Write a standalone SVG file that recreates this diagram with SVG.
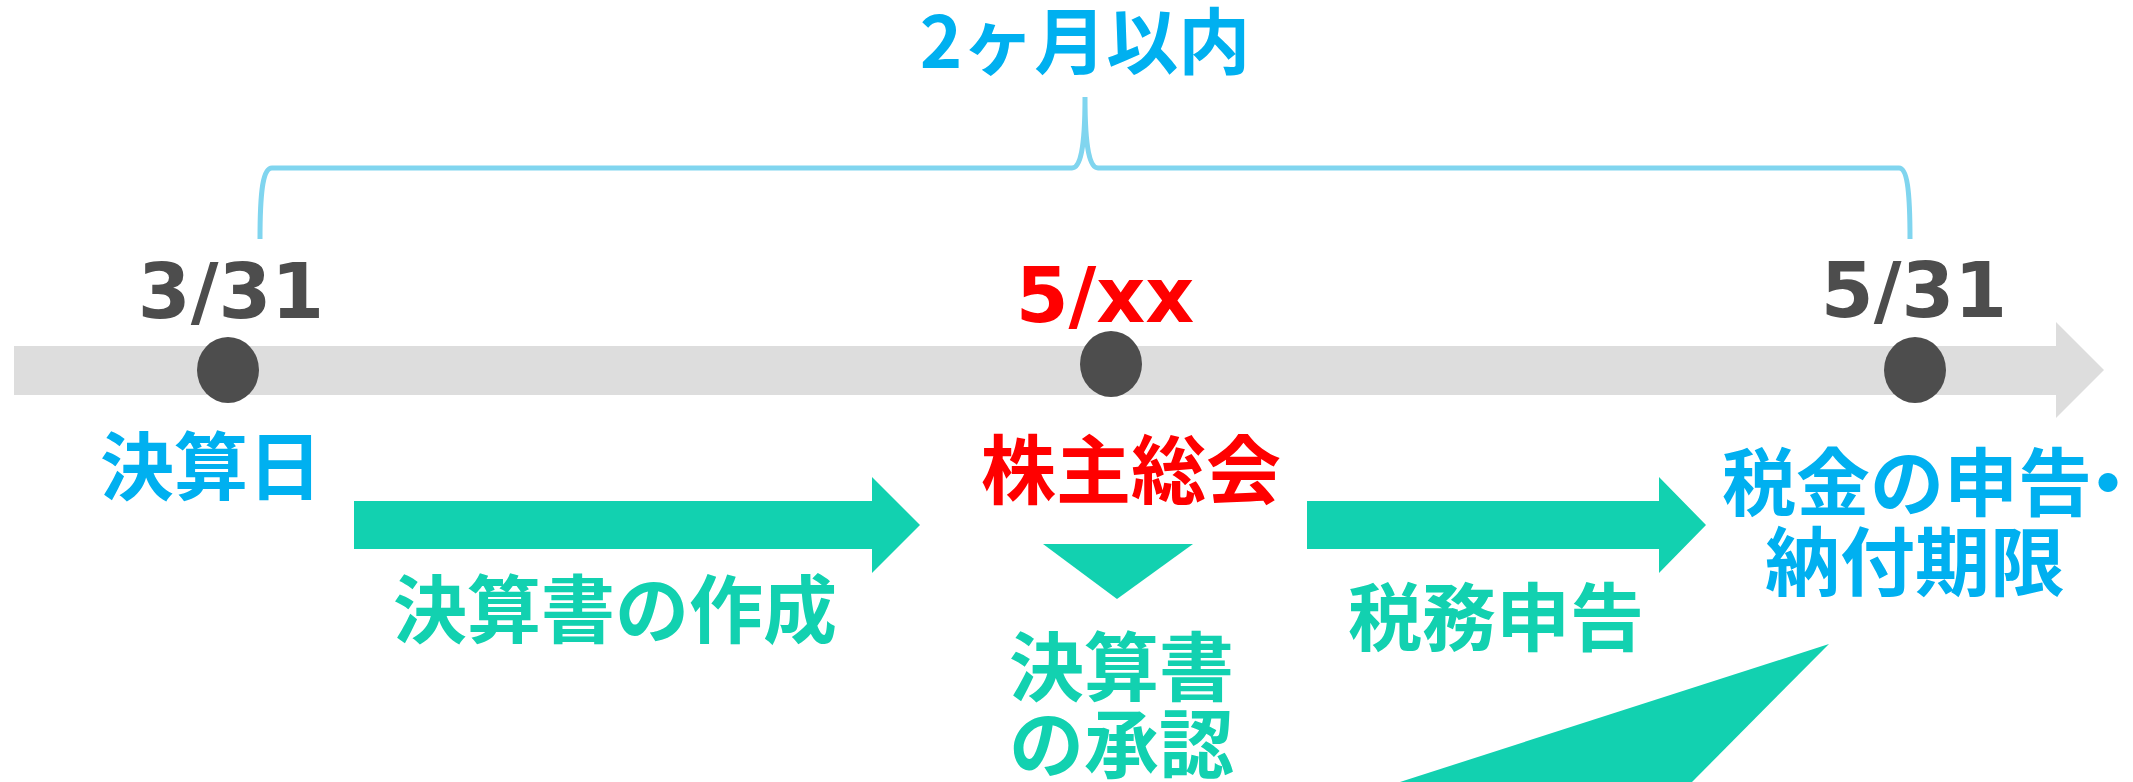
<svg xmlns="http://www.w3.org/2000/svg" width="2133" height="782" viewBox="0 0 2133 782">
<style>
.jp{font-family:"Noto Sans CJK JP","Noto Sans",sans-serif;font-weight:700}
.date{font-family:"DejaVu Sans",sans-serif;font-weight:700;font-size:76px;text-anchor:middle}
.blue{fill:#00B0F0}
.red{fill:#FF0000}
.teal{fill:#12D1B0}
.grey{fill:#4D4D4D}
.dot{fill:#4D4D4D}
.brace{fill:none;stroke:#80D5EF;stroke-width:5}
</style>
<rect width="2133" height="782" fill="#FFFFFF"/>
<g id="timeline">
<polygon points="14,346 2056,346 2056,322 2104,370 2056,418 2056,395 14,395" fill="#DDDDDD"/>
</g>
<g id="connectors">
<path class="brace" d="M260,239 C260,190 263,168 272,168 L1072,168 C1080,168 1085,150 1085,97 C1085,150 1090,168 1098,168 L1899,168 C1907,168 1910,190 1910,239"/>
<polygon class="teal" points="354,501 872,501 872,477 920,525 872,573 872,549 354,549"/>
<polygon class="teal" points="1307,501 1659,501 1659,477 1706,525 1659,573 1659,549 1307,549"/>
<polygon class="teal" points="1043,544 1193,544 1117,599"/>
<polygon class="teal" points="1829,644 1400,782 1692,782"/>
</g>
<g id="node-kessanbi">
<ellipse class="dot" cx="228" cy="370" rx="31" ry="33"/>
<text class="date grey" x="231" y="318">3/31</text>
<text class="jp blue" x="211" y="494" font-size="74" text-anchor="middle">決算日</text>
</g>
<g id="node-soukai">
<ellipse class="dot" cx="1111" cy="364" rx="31" ry="33"/>
<text class="date red" x="1105" y="322">5/xx</text>
<text class="jp red" x="1131" y="498" font-size="75" text-anchor="middle">株主総会</text>
</g>
<g id="node-kigen">
<ellipse class="dot" cx="1915" cy="370" rx="31" ry="33"/>
<text class="date grey" x="1914" y="317">5/31</text>
<text class="jp blue" x="1722" y="510" font-size="74">税金の申告<tspan x="2071">・</tspan></text>
<text class="jp blue" x="1915" y="590" font-size="75" text-anchor="middle">納付期限</text>
</g>
<g id="label-period">
<text class="jp blue" x="1085" y="68" font-size="72" text-anchor="middle">2ヶ月以内</text>
</g>
<g id="label-sakusei">
<text class="jp teal" x="615" y="637" font-size="74" text-anchor="middle">決算書の作成</text>
</g>
<g id="label-shounin">
<text class="jp teal" x="1009" y="695" font-size="75">決算書</text>
<text class="jp teal" x="1009" y="772" font-size="75">の承認</text>
</g>
<g id="label-shinkoku">
<text class="jp teal" x="1496" y="645" font-size="74" text-anchor="middle">税務申告</text>
</g>
</svg>
